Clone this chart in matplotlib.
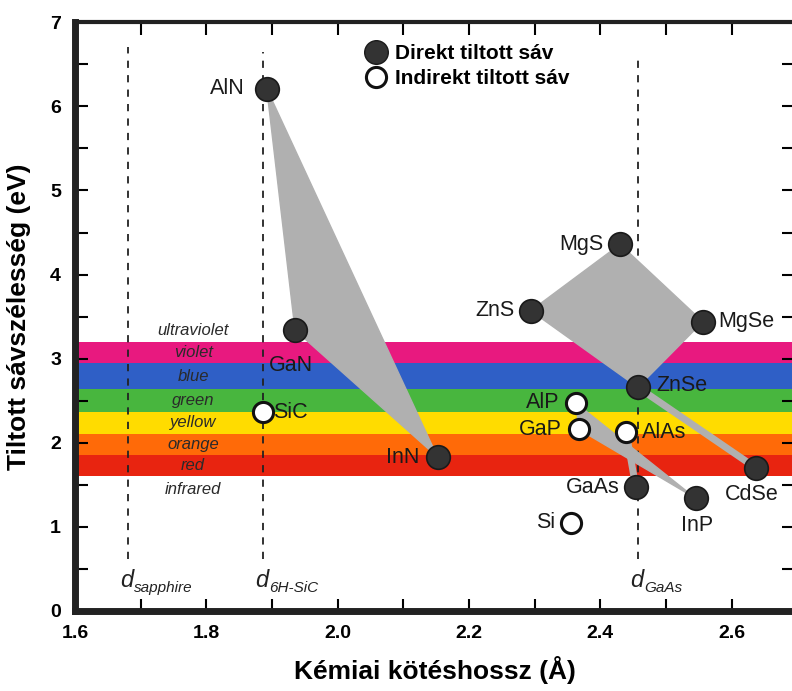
import numpy as np
import matplotlib.pyplot as plt
from matplotlib.lines import Line2D
from matplotlib.patches import Polygon

plt.rcParams['font.family'] = ['Liberation Sans', 'DejaVu Sans']

# ---- data ----
direct_names = ['AlN', 'GaN', 'InN', 'MgS', 'ZnS', 'MgSe', 'ZnSe', 'CdSe', 'GaAs', 'InP']
direct_x = [1.892, 1.935, 2.152, 2.430, 2.294, 2.556, 2.457, 2.637, 2.454, 2.545]
direct_y = [6.21, 3.34, 1.83, 4.36, 3.57, 3.44, 2.66, 1.70, 1.47, 1.34]

indirect_names = ['SiC', 'AlP', 'GaP', 'AlAs', 'Si']
indirect_x = [1.886, 2.363, 2.367, 2.439, 2.355]
indirect_y = [2.37, 2.47, 2.16, 2.13, 1.05]

# colour bands: name, lower and upper edge (eV)
band_names = ['violet', 'blue', 'green', 'yellow', 'orange', 'red']
band_low = [2.945, 2.636, 2.37, 2.11, 1.855, 1.60]
band_high = [3.20, 2.945, 2.636, 2.37, 2.11, 1.855]
band_colors = ['#e8197f', '#2f5fc6', '#48b63e', '#ffdc00', '#ff6a08', '#e82410']

# substrate bond lengths
sub_names = ['sapphire', '6H-SiC', 'GaAs']
sub_x = [1.681, 1.886, 2.458]
sub_top = [6.70, 6.65, 6.59]

pos = dict(zip(direct_names + indirect_names, zip(direct_x + indirect_x, direct_y + indirect_y)))

fig = plt.figure(figsize=(7.92, 6.91), dpi=100)
ax = fig.add_axes([0.0947, 0.1158, 0.908, 0.852])
ax.set_xlim(1.6, 2.695)
ax.set_ylim(0, 7)

# colour bands
for lo, hi, c, name in zip(band_low, band_high, band_colors, band_names):
    ax.axhspan(lo, hi, color=c, lw=0, zorder=0)
    ax.text(1.78, (lo + hi) / 2, name, style='italic', fontsize=12, color='#2a2a2a',
            ha='center', va='center', zorder=1)
ax.text(1.78, 3.34, 'ultraviolet', style='italic', fontsize=12, color='#2a2a2a', ha='center', va='center')
ax.text(1.78, 1.44, 'infrared', style='italic', fontsize=12, color='#2a2a2a', ha='center', va='center')

# dashed substrate lines with d_xxx labels
for name, x, top in zip(sub_names, sub_x, sub_top):
    ax.plot([x, x], [0.62, top], ls=(0, (4, 4)), color='#222222', lw=1.3, zorder=2)
    ax.text(x - 0.012, 0.36, 'd', style='italic', fontsize=17, color='#222222', ha='left', va='center')
    ax.annotate(name, (x - 0.012, 0.36), xytext=(10, -5), textcoords='offset points',
                style='italic', fontsize=11, color='#222222', ha='left', va='center')

# grey alloy regions
grey = '#b0b0b0'
for names in (['AlN', 'GaN', 'InN'], ['MgS', 'MgSe', 'ZnSe', 'ZnS'], ['AlP', 'InP', 'GaP']):
    ax.add_patch(Polygon([pos[n] for n in names], closed=True, fc=grey, ec=grey, lw=1, zorder=3))
for a, b in (('ZnSe', 'CdSe'), ('AlAs', 'GaAs')):
    ax.plot([pos[a][0], pos[b][0]], [pos[a][1], pos[b][1]], color=grey, lw=5, zorder=3,
            solid_capstyle='butt')

# points
ax.plot(direct_x, direct_y, 'o', ms=17, mfc='#333333', mec='#1a1a1a', mew=1.2, zorder=5, ls='none')
ax.plot(indirect_x, indirect_y, 'o', ms=14.5, mfc='white', mec='#111111', mew=2.2, zorder=5, ls='none')

# point labels: offset in data units and alignment
labels = {
    'AlN': (-0.033, 0.0, 'right', 'center'),
    'GaN': (-0.040, -0.42, 'left', 'center'),
    'InN': (-0.027, 0.0, 'right', 'center'),
    'SiC': (0.015, -0.01, 'left', 'center'),
    'MgS': (-0.025, 0.0, 'right', 'center'),
    'ZnS': (-0.025, 0.0, 'right', 'center'),
    'MgSe': (0.024, 0.0, 'left', 'center'),
    'ZnSe': (0.028, 0.02, 'left', 'center'),
    'AlP': (-0.026, 0.01, 'right', 'center'),
    'GaP': (-0.026, 0.0, 'right', 'center'),
    'AlAs': (0.025, -0.01, 'left', 'center'),
    'GaAs': (-0.025, 0.0, 'right', 'center'),
    'CdSe': (-0.007, -0.31, 'center', 'center'),
    'InP': (0.002, -0.32, 'center', 'center'),
    'Si': (-0.024, 0.0, 'right', 'center'),
}
for n, (dx, dy, ha, va) in labels.items():
    x, y = pos[n]
    ax.text(x + dx, y + dy, n, fontsize=15.5, color='#1a1a1a', ha=ha, va=va, zorder=6)

# legend
handles = [Line2D([], [], marker='o', ls='none', ms=17, mfc='#333333', mec='#1a1a1a'),
           Line2D([], [], marker='o', ls='none', ms=14.5, mfc='white', mec='#111111', mew=2.2)]
ax.legend(handles, ['Direkt tiltott sáv', 'Indirekt tiltott sáv'], loc='upper left',
          bbox_to_anchor=(0.375, 0.995), frameon=False, handletextpad=0.3, labelspacing=0.3,
          prop={'size': 15, 'weight': 'bold'}, handlelength=1.2)

# axes styling
ax.set_xticks(np.arange(1.6, 2.61, 0.2))
ax.set_xticks(np.arange(1.6, 2.69, 0.1), minor=True)
ax.set_yticks(range(0, 8))
ax.set_yticks(np.arange(0, 7.01, 0.5), minor=True)
ax.set_xticklabels(['1.6', '1.8', '2.0', '2.2', '2.4', '2.6'])
ax.tick_params(which='both', direction='in', top=True, right=True, length=9, width=1.5,
               labelsize=14, pad=10)
for lab in ax.get_xticklabels() + ax.get_yticklabels():
    lab.set_fontweight('bold')
for side, w in (('left', 5), ('bottom', 5), ('top', 3), ('right', 3)):
    ax.spines[side].set_linewidth(w)
    ax.spines[side].set_color('#222222')

ax.set_xlabel('Kémiai kötéshossz (Å)', fontsize=19, fontweight='bold', labelpad=10)
ax.set_ylabel('Tiltott sávszélesség (eV)', fontsize=19, fontweight='bold', labelpad=14)

fig.savefig('out.png', dpi=100)
